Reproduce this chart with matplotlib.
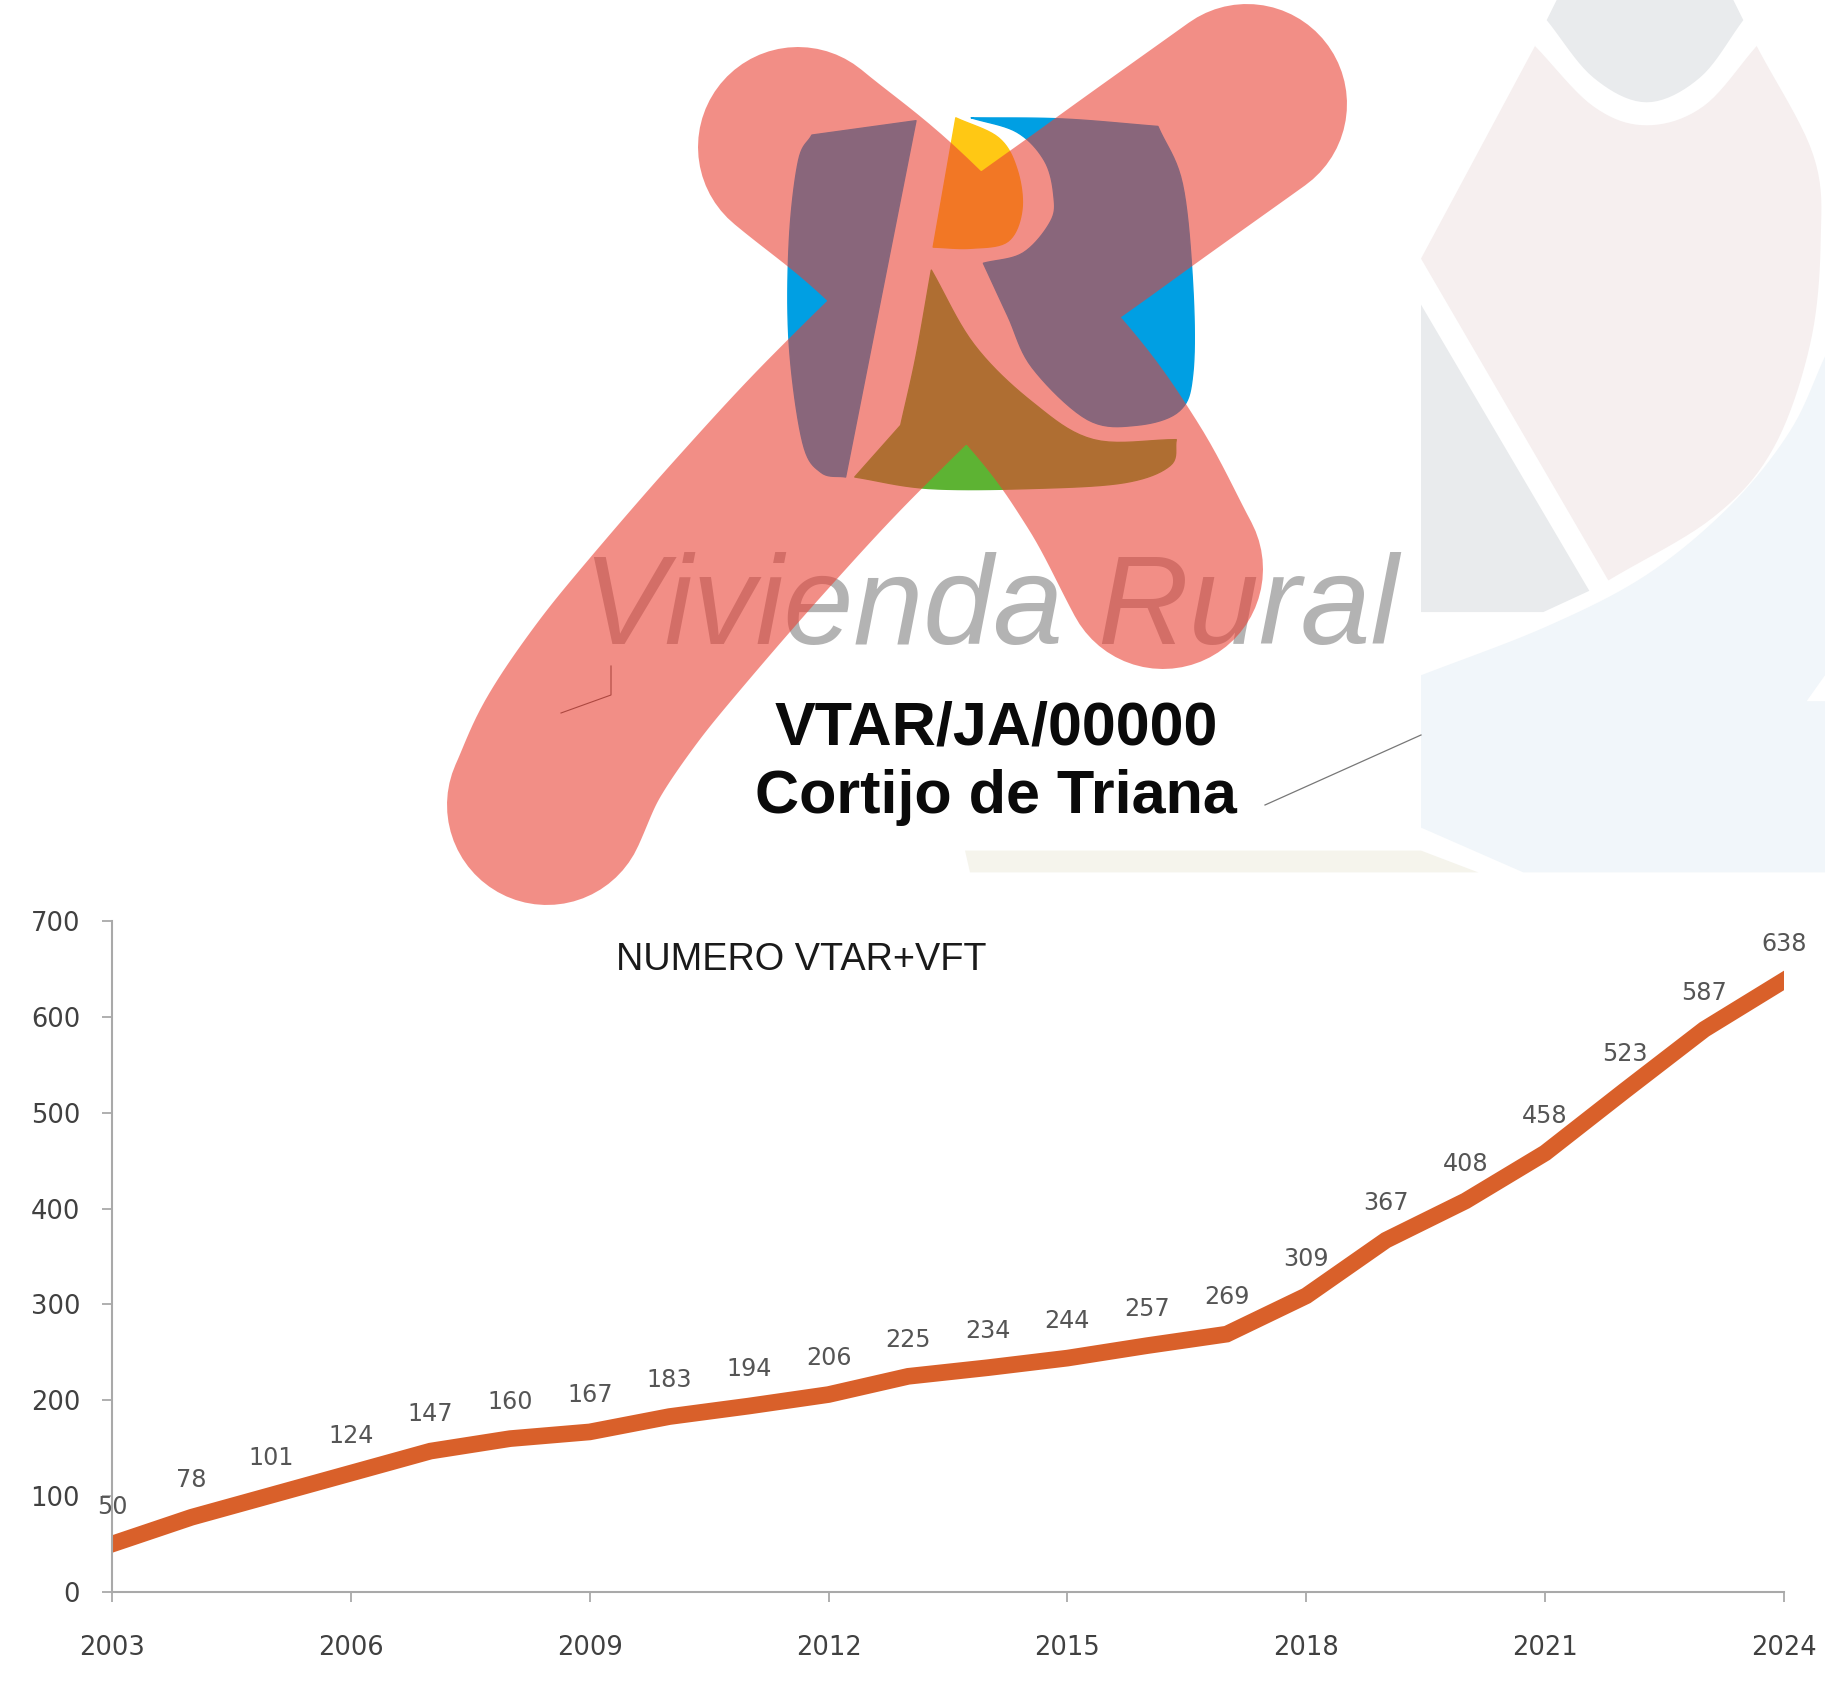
import matplotlib
matplotlib.use("Agg")
import matplotlib.pyplot as plt
from matplotlib.patches import Polygon, PathPatch
from matplotlib.path import Path
import numpy as np

W, H = 1825, 1692

# chart data
years = list(range(2003, 2025))
numero = [50, 78, 101, 124, 147, 160, 167, 183, 194, 206, 225, 234, 244, 257,
          269, 309, 367, 408, 458, 523, 587, 638]
year_ticks = [2003, 2006, 2009, 2012, 2015, 2018, 2021, 2024]
y_ticks = [0, 100, 200, 300, 400, 500, 600, 700]
chart_title = "NUMERO VTAR+VFT"


def smooth(pts, n=10):
    # rounds off a run of outline points (Catmull-Rom)
    p = np.array(pts, dtype=float)
    if len(p) < 3:
        return [tuple(q) for q in p]
    p = np.vstack([2 * p[0] - p[1], p, 2 * p[-1] - p[-2]])
    out = []
    for i in range(1, len(p) - 2):
        for t in np.linspace(0, 1, n, endpoint=False):
            out.append(0.5 * (2 * p[i] + (p[i + 1] - p[i - 1]) * t
                              + (2 * p[i - 1] - 5 * p[i] + 4 * p[i + 1] - p[i + 2]) * t ** 2
                              + (3 * p[i] - p[i - 1] - 3 * p[i + 1] + p[i + 2]) * t ** 3))
    out.append(p[-2])
    return [tuple(q) for q in out]


def outline(*runs):
    pts = []
    for r in runs:
        pts += smooth(r)
    return pts


def logo_px(pts):
    # logo shapes were measured on a crop starting at x=420
    return [(420 + x / 1.633, y / 1.74) for x, y in pts]


def bg_px(pts):
    # background shapes on the right, crop starting at x=1380
    return [(1380 + x / 3.0, y / 1.74) for x, y in pts]


fig = plt.figure(figsize=(W / 100, H / 100), dpi=100, facecolor="white")

# ---- top part: card with logo, drawn in pixel coordinates
deco = fig.add_axes([0, 0, 1, 1], zorder=1)
deco.set_xlim(0, W)
deco.set_ylim(H, 0)
deco.axis("off")

GREY_BG = "#e9ebed"
PINK_BG = "#f6efef"
BLUE_BG = "#f1f6fa"
CREAM_BG = "#f5f4ec"

gray_cap = outline([(530, 0), (500, 35)],
                   [(500, 35), (640, 135), (800, 178), (960, 135), (1090, 35)],
                   [(1090, 35), (1060, 0)])
pink = outline([(465, 80), (640, 185), (800, 218), (970, 185), (1130, 80)],
               [(1130, 80), (1300, 270), (1322, 420), (1290, 600), (1180, 780),
                (1000, 900), (685, 1010)],
               [(685, 1010), (123, 450)])
gray_tri = [(123, 530), (628, 1028), (490, 1065), (123, 1065)]
blue = outline([(123, 1175), (500, 1090), (800, 1000), (1050, 880), (1230, 750),
                (1335, 620)],
               [(1335, 620), (1335, 1175)], [(1335, 1175), (1280, 1220)],
               [(1280, 1220), (1335, 1220)], [(1335, 1220), (1335, 1518)],
               [(1335, 1518), (430, 1518)], [(430, 1518), (123, 1440)])
cream = [(-1245, 1480), (123, 1480), (295, 1518), (-1230, 1518)]
for pts, col in [(gray_cap, GREY_BG), (pink, PINK_BG), (gray_tri, GREY_BG),
                 (blue, BLUE_BG), (cream, CREAM_BG)]:
    deco.add_patch(Polygon(bg_px(pts), closed=True, fc=col, ec="none", zorder=1))

# logo
blue_left = outline([(810, 210), (695, 830)],
                    [(695, 830), (655, 822), (625, 770), (603, 600), (603, 420),
                     (618, 280), (640, 235)],
                    [(640, 235), (810, 210)])
blue_right = outline([(900, 205), (1050, 207), (1205, 220)],
                     [(1205, 220), (1245, 320), (1262, 500), (1262, 650), (1240, 715),
                      (1170, 740), (1090, 730), (1000, 640), (960, 550), (920, 458)],
                     [(920, 458), (985, 440), (1030, 385), (1035, 340), (1020, 280),
                      (975, 230), (900, 205)])
yellow = outline([(875, 205), (945, 240), (975, 295), (983, 365), (960, 420),
                  (900, 432), (838, 430)],
                 [(838, 430), (875, 205)])
green = outline([(835, 470), (905, 600), (1000, 700), (1100, 765), (1235, 765)],
                [(1235, 765), (1225, 810), (1150, 840), (1000, 850), (830, 850), (710, 830)],
                [(710, 830), (785, 740)],
                [(785, 740), (810, 620), (835, 470)])
for pts, col in [(blue_left, "#009fe3"), (blue_right, "#009fe3"),
                 (yellow, "#ffc814"), (green, "#5db333")]:
    deco.add_patch(Polygon(logo_px(pts), closed=True, fc=col, ec=col, lw=1,
                           joinstyle="round", zorder=2))

deco.text(583, 644, "Vivienda Rural", fontsize=90.5, style="italic", color="#b3b3b3",
          family="Liberation Sans", ha="left", va="baseline", zorder=3)
deco.text(996, 744, "VTAR/JA/00000", fontsize=44, weight="bold", color="#0a0a0a",
          family="Liberation Sans", ha="center", va="baseline", zorder=3)
deco.text(996, 813, "Cortijo de Triana", fontsize=44, weight="bold", color="#0a0a0a",
          family="Liberation Sans", ha="center", va="baseline", zorder=3)

deco.plot([1265, 1421], [805, 735], color="#777777", lw=0.9, zorder=3)
deco.plot([561, 611, 611], [713, 695, 666], color="#555555", lw=0.8, zorder=3)

# the big red cross over the logo, one path so the overlap is not blended twice
arm_a = smooth([(547, 805), (572, 750), (612, 690), (660, 630), (751, 525), (849, 420),
                (971, 305), (1106, 205), (1247, 104)])
arm_b = smooth([(798, 147), (898, 230), (1042, 379), (1112, 474), (1163, 569)])
verts = arm_a + arm_b
codes = [Path.MOVETO] + [Path.LINETO] * (len(arm_a) - 1) + \
        [Path.MOVETO] + [Path.LINETO] * (len(arm_b) - 1)
deco.add_patch(PathPatch(Path(verts, codes), fill=False, ec="#ea3f32", alpha=0.59,
                         lw=144, capstyle="round", joinstyle="round", zorder=4))

# ---- line chart
x0, x1, y0, y1 = 112, 1784, 1592, 921
ax = fig.add_axes([x0 / W, 1 - y0 / H, (x1 - x0) / W, (y0 - y1) / H], zorder=2)
ax.patch.set_alpha(0)
ax.plot(years, numero, color="#d9602a", lw=12, solid_joinstyle="miter",
        solid_capstyle="projecting")
ax.set_xlim(2003, 2024)
ax.set_ylim(0, 700)
ax.set_xticks(year_ticks)
ax.set_yticks(y_ticks)
ax.tick_params(length=7, width=1.3, color="#a9a9a9", labelsize=18.5,
               labelcolor="#404040")
ax.tick_params(axis="x", pad=24)
ax.tick_params(axis="y", pad=16)
for s in ["top", "right"]:
    ax.spines[s].set_visible(False)
for s in ["left", "bottom"]:
    ax.spines[s].set_color("#a9a9a9")
    ax.spines[s].set_linewidth(1.5)

for yr, val in zip(years, numero):
    ax.annotate(str(val), (yr, val), xytext=(0, 26.5), textcoords="offset points",
                ha="center", va="center", fontsize=17.2, color="#555555")

deco.text(801, 960, chart_title, fontsize=27.3, color="#1a1a1a", ha="center",
          va="center", family="Liberation Sans", zorder=3)

fig.savefig("out.png", dpi=100)
